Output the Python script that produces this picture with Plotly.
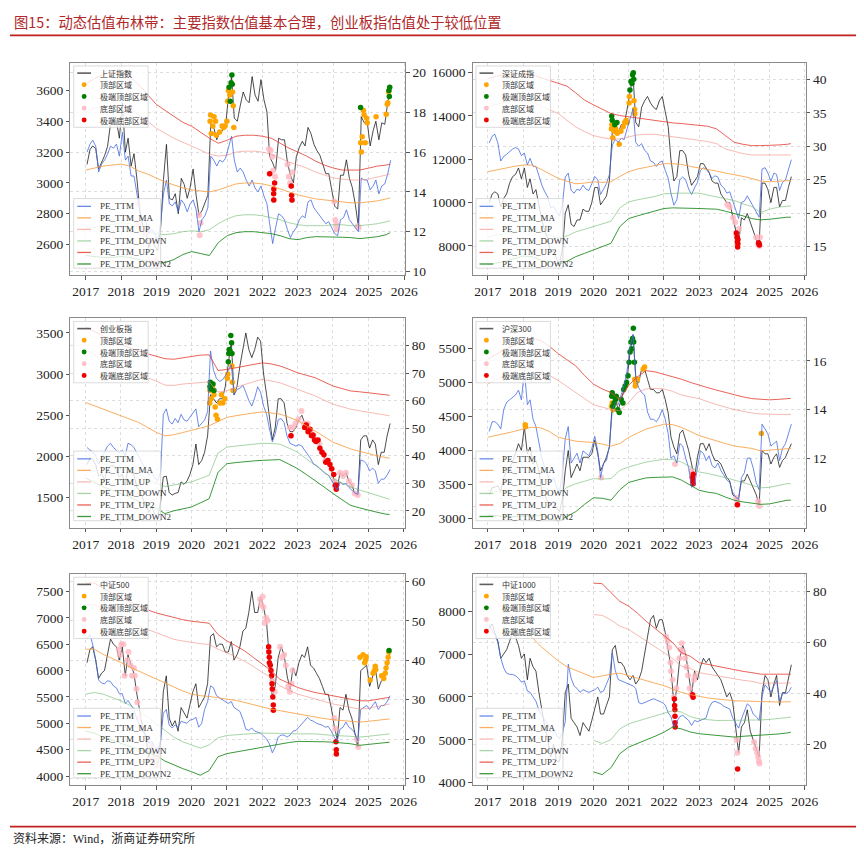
import pandas as pd
import plotly.graph_objects as go

W, H = 864, 853

# ---------------- time grids ----------------
months = pd.date_range("2017-01-01", periods=104, freq="MS") + pd.Timedelta(days=14)
quarters = list(pd.date_range("2017-01-01", "2025-07-01", freq="QS")) + [pd.Timestamp("2025-08-10")]
year_ticks = [str(y) for y in range(2017, 2027)]

# ---------------- 上证指数 ----------------
sh_idx = [3120, 3217, 3240, 3222, 3090, 3132, 3176, 3237, 3385, 3390, 3402, 3290,
          3520, 3200, 3290, 3110, 3190, 3020, 2810, 2720, 2680, 2580, 2630, 2590,
          2560, 2720, 3020, 3250, 2900, 2890, 2930, 2800, 3030, 2990, 2900, 2970,
          3090, 2920, 2790, 2820, 2870, 2920, 3380, 3360, 3280, 3330, 3340, 3370,
          3570, 3690, 3420, 3400, 3500, 3590, 3540, 3520, 3690, 3570, 3530, 3670,
          3540, 3460, 3170, 3130, 3080, 3290, 3280, 3280, 3130, 3050, 3000, 3170,
          3230, 3270, 3240, 3360, 3320, 3250, 3210, 3180, 3120, 3060, 3060, 2960,
          2850, 2830, 3050, 3050, 3150, 3030, 2970, 2860, 2720, 3430, 3390, 3400,
          3240, 3340, 3400, 3280, 3390, 3380, 3520, 3620]
sh_pe = [16.0, 16.4, 16.6, 16.3, 15.0, 15.4, 15.6, 15.9, 16.3, 16.2, 16.4, 15.8,
         17.0, 15.6, 15.8, 14.8, 14.8, 13.9, 13.0, 12.6, 12.5, 11.9, 12.1, 11.9,
         11.5, 12.5, 13.9, 14.6, 13.4, 13.3, 13.5, 13.0, 13.6, 13.4, 13.0, 13.4,
         13.6, 13.1, 12.0, 12.6, 12.8, 13.2, 15.8, 15.6, 15.3, 15.6, 15.5, 15.7,
         16.3, 16.8, 15.6, 15.0, 15.2, 15.0, 14.6, 14.3, 14.6, 14.2, 14.0, 14.3,
         13.8, 13.4, 12.4, 11.4, 12.2, 12.9, 12.8, 12.6, 12.1, 11.7, 12.0, 12.2,
         12.6, 12.8, 12.7, 13.5, 13.6, 13.2, 13.0, 12.8, 12.6, 12.4, 12.5, 12.2,
         11.9, 11.8, 12.6, 12.7, 13.1, 12.6, 12.4, 12.2, 12.0, 14.7, 14.6, 14.6,
         14.1, 14.3, 14.6, 13.9, 14.3, 14.4, 14.9, 15.6]
sh_up2 = [19.4, 19.7, 19.9, 20.0, 20.0, 19.8, 19.4, 18.9, 18.4, 18.1, 17.8, 17.5, 17.3, 17.0, 16.7, 16.45, 16.6, 16.8,
          16.85, 16.85, 16.8, 16.7, 16.45, 16.2, 16.0, 15.8, 15.55, 15.35, 15.2, 15.1, 15.1, 15.1, 15.2, 15.3, 15.35, 15.4]
sh_up = [18.0, 18.2, 18.3, 18.35, 18.35, 18.2, 17.9, 17.55, 17.2, 16.95, 16.7, 16.5, 16.3, 16.1, 15.9, 15.8, 15.85, 16.0,
         16.05, 16.05, 16.0, 15.9, 15.7, 15.5, 15.35, 15.2, 15.0, 14.85, 14.7, 14.65, 14.6, 14.6, 14.65, 14.75, 14.85, 14.9]
sh_ma = [15.1, 15.2, 15.3, 15.35, 15.4, 15.3, 15.05, 14.9, 14.7, 14.5, 14.35, 14.2, 14.1, 14.05, 14.0, 14.1, 14.25, 14.4,
         14.45, 14.45, 14.4, 14.3, 14.15, 14.0, 13.85, 13.75, 13.65, 13.6, 13.55, 13.5, 13.45, 13.45, 13.5, 13.55, 13.65, 13.7]
sh_dn = [12.2, 12.2, 12.3, 12.35, 12.45, 12.4, 12.2, 12.0, 11.9, 11.85, 11.9, 12.0, 12.05, 12.0, 12.1, 12.4, 12.65, 12.8,
         12.85, 12.85, 12.8, 12.7, 12.6, 12.45, 12.35, 12.3, 12.3, 12.3, 12.35, 12.35, 12.3, 12.3, 12.35, 12.4, 12.5, 12.55]
sh_dn2 = [10.8, 10.75, 10.7, 10.7, 10.75, 10.7, 10.6, 10.5, 10.4, 10.45, 10.6, 10.85, 11.0, 10.9, 10.8, 11.45, 11.8, 11.95,
          12.0, 12.0, 11.95, 11.9, 11.8, 11.65, 11.6, 11.7, 11.75, 11.75, 11.72, 11.72, 11.7, 11.65, 11.7, 11.75, 11.85, 11.95]
sh_top = [("2020-07-08", 3400), ("2020-07-13", 3440), ("2020-07-21", 3320), ("2020-08-05", 3370), ("2020-08-18", 3430),
          ("2020-09-02", 3400), ("2020-09-10", 3310), ("2020-10-15", 3330), ("2020-11-09", 3370), ("2020-11-25", 3360),
          ("2020-12-10", 3370), ("2020-12-28", 3400), ("2021-01-05", 3530), ("2021-01-13", 3600), ("2021-01-27", 3570),
          ("2021-02-25", 3590), ("2021-03-04", 3500), ("2021-03-10", 3360), ("2024-10-09", 3260), ("2024-10-16", 3200),
          ("2024-10-25", 3300), ("2024-11-07", 3470), ("2024-11-13", 3440), ("2024-11-25", 3260), ("2024-12-10", 3420),
          ("2024-12-16", 3390), ("2025-03-17", 3430), ("2025-06-30", 3445), ("2025-07-10", 3510), ("2025-07-17", 3520),
          ("2025-07-24", 3590)]
sh_xtop = [("2021-01-20", 3620), ("2021-02-01", 3530), ("2021-02-10", 3650), ("2021-02-18", 3700), ("2021-02-22", 3640),
           ("2024-10-08", 3490), ("2025-07-28", 3600), ("2025-08-01", 3560), ("2025-08-05", 3620)]
sh_bot = [("2018-06-25", 2860), ("2018-07-05", 2730), ("2018-08-15", 2700), ("2018-09-10", 2670), ("2018-10-18", 2490),
          ("2018-11-15", 2630), ("2018-12-25", 2500), ("2019-01-03", 2465), ("2020-03-16", 2790), ("2020-03-23", 2660),
          ("2020-04-01", 2740), ("2022-03-08", 3220), ("2022-03-15", 3060), ("2022-03-25", 3210), ("2022-04-11", 3170),
          ("2022-04-20", 3080), ("2022-04-26", 2890), ("2022-05-10", 3040), ("2022-09-16", 3120), ("2022-09-28", 3040),
          ("2022-10-12", 3000), ("2022-10-24", 2980), ("2022-10-31", 2890), ("2022-11-04", 3070), ("2024-01-10", 2880),
          ("2024-01-22", 2760), ("2024-02-02", 2730), ("2024-02-05", 2700), ("2024-09-10", 2720), ("2024-09-18", 2710)]
sh_xbot = [("2022-03-15", 3060), ("2022-04-25", 2930), ("2022-04-26", 2890), ("2022-04-27", 2960), ("2022-05-05", 3000),
           ("2022-10-24", 2980), ("2022-10-28", 2920), ("2022-10-31", 2890)]

# ---------------- 深证成指 ----------------
sz_idx = [10000, 10400, 10500, 10400, 9800, 10200, 10400, 10900, 11200, 11300, 11600, 11100,
          11600, 10700, 11100, 10400, 10600, 9800, 9200, 8700, 8300, 7700, 7800, 7400,
          7200, 7900, 9500, 9900, 9000, 8900, 9200, 9200, 9700, 9600, 9600, 10000,
          10700, 10700, 9900, 10100, 10300, 11000, 13300, 13600, 13200, 13600, 13600, 14300,
          15200, 15900, 13700, 13500, 14400, 14700, 14900, 14600, 14400, 14300, 14700, 14900,
          14200, 13500, 12000, 11000, 11200, 12400, 12400, 12200, 11300, 10800, 11000, 11200,
          11800, 11800, 11600, 11400, 11000, 10900, 10900, 10400, 10200, 10000, 10000, 9400,
          8800, 8100, 9300, 9200, 9500, 9100, 8700, 8300, 8100, 10900, 10900, 10600,
          10000, 10700, 10700, 9800, 10100, 10100, 10700, 11200]
sz_pe = [30.5, 31.5, 31.8, 30.5, 27.8, 28.5, 28.8, 29.2, 29.6, 29.8, 29.6, 28.6,
         29.0, 27.2, 28.2, 27.0, 27.0, 25.6, 24.2, 23.2, 22.4, 20.8, 21.0, 20.2,
         19.6, 21.5, 25.4, 26.0, 23.4, 23.0, 23.6, 23.4, 24.2, 23.6, 23.4, 24.4,
         25.5, 25.0, 22.8, 23.6, 24.4, 25.8, 30.2, 31.0, 30.6, 31.2, 31.0, 32.6,
         34.2, 35.6, 30.6, 30.0, 30.4, 29.4, 29.0, 27.8, 27.6, 27.0, 27.6, 27.8,
         26.4, 25.2, 23.0, 21.2, 22.0, 25.0, 25.4, 25.0, 23.6, 22.8, 23.8, 24.6,
         26.4, 26.8, 26.6, 26.0, 25.2, 25.6, 25.4, 24.2, 23.8, 23.0, 23.2, 21.8,
         20.4, 19.2, 21.6, 21.8, 22.6, 21.8, 21.0, 20.0, 19.4, 26.6, 26.8, 26.0,
         24.8, 26.0, 25.8, 23.4, 24.6, 25.0, 26.6, 28.0]
sz_up2 = [40.1, 40.5, 40.7, 40.8, 40.8, 40.7, 40.3, 39.8, 39.4, 39.0, 38.0, 36.9, 36.2, 35.5, 34.9, 34.6, 34.4, 34.2,
          34.0, 33.8, 33.6, 33.5, 33.4, 33.3, 33.1, 33.0, 32.6, 31.6, 30.6, 30.3, 30.1, 30.1, 30.1, 30.2, 30.3, 30.4]
sz_up = [35.9, 36.3, 36.6, 36.8, 36.8, 36.6, 36.0, 35.4, 34.9, 33.9, 32.9, 32.2, 31.6, 31.3, 31.1, 31.1, 31.4, 31.7,
         31.8, 31.8, 31.6, 31.4, 31.3, 31.1, 30.9, 30.7, 30.4, 29.6, 29.2, 28.9, 28.7, 28.7, 28.7, 28.7, 28.7, 28.7]
sz_ma = [26.2, 26.5, 26.7, 27.0, 27.2, 27.2, 26.6, 25.9, 25.2, 24.8, 24.4, 24.5, 24.7, 24.6, 24.7, 25.5, 26.2, 26.6,
         26.9, 27.2, 27.4, 27.4, 27.3, 27.0, 26.8, 26.6, 26.3, 26.0, 25.8, 25.5, 25.2, 24.8, 24.7, 24.8, 24.9, 24.9]
sz_dn = [16.5, 16.7, 16.9, 17.2, 17.6, 17.6, 17.2, 16.8, 16.3, 16.6, 17.2, 17.6, 18.0, 18.3, 18.8, 20.8, 21.7, 22.0,
         22.2, 22.5, 22.9, 23.0, 23.0, 23.0, 23.0, 22.7, 22.4, 22.2, 21.9, 21.4, 21.0, 20.1, 20.6, 20.9, 21.1, 21.1]
sz_dn2 = [12.3, 12.5, 12.8, 13.2, 13.6, 13.5, 13.0, 12.7, 12.4, 12.8, 13.5, 14.0, 14.5, 15.0, 15.5, 18.0, 19.2, 19.6,
          20.0, 20.4, 20.7, 20.8, 20.8, 20.8, 20.7, 20.65, 20.6, 20.3, 20.0, 19.6, 19.2, 19.0, 19.1, 19.3, 19.4, 19.4]
sz_top = [("2020-07-06", 13400), ("2020-07-10", 13600), ("2020-07-20", 13000), ("2020-08-05", 13300),
          ("2020-08-20", 13400), ("2020-09-04", 13200), ("2020-09-25", 12700), ("2020-10-12", 13300),
          ("2020-11-05", 13500), ("2020-11-20", 13700), ("2020-12-04", 13800), ("2020-12-15", 13700),
          ("2021-01-05", 14600), ("2021-01-08", 14900), ("2021-02-25", 14700), ("2021-03-03", 14300),
          ("2021-03-05", 14100)]
sz_xtop = [("2020-07-09", 14000), ("2020-07-14", 13800), ("2020-08-10", 13600), ("2020-09-01", 13700),
           ("2021-01-14", 15200), ("2021-01-25", 15600), ("2021-02-04", 15500), ("2021-02-10", 15900),
           ("2021-02-18", 16000), ("2021-02-22", 15700)]
sz_bot = [("2023-10-20", 9900), ("2023-11-15", 9800), ("2023-12-20", 9300), ("2024-01-10", 9100), ("2024-01-25", 8500),
          ("2024-02-20", 8800), ("2024-08-15", 8400), ("2024-09-05", 8100), ("2024-09-18", 8000), ("2024-09-24", 8400)]
sz_xbot = [("2024-01-22", 8600), ("2024-01-30", 8400), ("2024-02-02", 8200), ("2024-02-05", 7950), ("2024-02-07", 8100),
           ("2024-02-08", 8300), ("2024-09-10", 8150), ("2024-09-13", 8100), ("2024-09-18", 8050)]

# ---------------- 创业板指 ----------------
cy_idx = [1900, 1980, 1960, 1900, 1760, 1790, 1720, 1830, 1880, 1890, 1830, 1750,
          1780, 1650, 1860, 1800, 1780, 1620, 1580, 1480, 1400, 1320, 1390, 1300,
          1250, 1450, 1750, 1760, 1560, 1530, 1550, 1560, 1690, 1660, 1700, 1780,
          1900, 2150, 1900, 1950, 2050, 2250, 2750, 2700, 2650, 2700, 2700, 2850,
          3100, 3400, 2750, 2850, 3100, 3300, 3500, 3300, 3200, 3300, 3450, 3400,
          3000, 2750, 2500, 2200, 2350, 2700, 2700, 2650, 2400, 2300, 2300, 2350,
          2450, 2500, 2400, 2300, 2300, 2250, 2200, 2150, 2050, 1950, 1950, 1850,
          1700, 1620, 1800, 1760, 1800, 1700, 1650, 1550, 1530, 2200, 2250, 2250,
          2100, 2200, 2150, 1900, 2050, 2050, 2250, 2400]
cy_pe = [43.0, 42.0, 41.5, 40.0, 37.0, 39.0, 41.0, 43.5, 44.5, 43.0, 42.0, 41.0,
         42.0, 40.0, 44.5, 44.0, 43.0, 41.0, 39.0, 36.5, 35.0, 33.0, 34.0, 32.0,
         31.0, 34.0, 55.0, 57.0, 52.5, 51.5, 53.5, 52.0, 55.0, 53.0, 52.5, 54.0,
         55.5, 57.0, 50.5, 52.0, 53.0, 56.0, 78.0, 71.0, 68.0, 67.0, 67.5, 69.0,
         71.0, 73.0, 62.0, 64.0, 64.5, 65.5, 63.0, 60.0, 58.0, 61.0, 65.0, 63.0,
         58.0, 55.0, 50.0, 45.0, 48.0, 53.0, 53.5, 52.0, 47.0, 44.5, 44.0, 43.5,
         44.0, 43.5, 42.0, 40.5, 39.0, 37.0, 36.5, 35.5, 34.5, 33.5, 33.0, 31.5,
         29.5, 27.5, 30.5, 29.5, 30.0, 28.5, 27.5, 26.5, 26.0, 38.5, 38.0, 37.0,
         34.5, 35.5, 34.5, 30.0, 31.5, 31.5, 33.0, 35.0]
cy_up2 = [86.7, 85.0, 83.3, 81.8, 80.3, 79.1, 77.9, 77.0, 76.1, 75.2, 75.0, 75.5, 76.1, 76.5, 76.6, 70.9, 71.3, 71.9,
          72.5, 73.1, 73.7, 73.3, 72.6, 71.4, 70.1, 69.2, 68.3, 66.8, 65.3, 64.4, 63.5, 63.2, 62.9, 62.5, 62.1, 61.9]
cy_up = [78.5, 76.7, 74.9, 73.4, 71.9, 70.7, 69.5, 68.3, 67.1, 65.6, 65.5, 66.0, 66.3, 66.6, 66.8, 63.1, 63.6, 64.8,
         65.9, 66.8, 67.7, 67.2, 66.5, 65.3, 64.1, 62.9, 61.7, 60.2, 58.7, 57.8, 56.9, 56.3, 55.7, 55.2, 54.7, 54.5]
cy_ma = [59.3, 58.1, 56.9, 55.7, 54.5, 53.3, 52.1, 50.3, 48.5, 47.2, 47.6, 48.4, 49.1, 50.0, 50.9, 52.5, 53.9, 54.5,
         55.1, 55.5, 55.9, 55.6, 55.1, 54.0, 52.7, 50.9, 49.1, 47.0, 44.9, 43.7, 42.5, 41.6, 40.7, 40.0, 39.3, 39.1]
cy_dn = [40.1, 38.6, 37.1, 36.0, 35.0, 34.5, 33.5, 31.5, 29.9, 28.8, 29.3, 29.9, 30.5, 31.7, 32.9, 41.0, 43.1, 43.5,
         43.9, 44.2, 44.5, 44.4, 44.2, 42.8, 41.3, 38.9, 36.5, 34.1, 31.7, 30.2, 28.7, 27.6, 26.6, 25.4, 24.4, 24.2]
cy_dn2 = [31.9, 30.3, 28.7, 27.5, 26.3, 25.0, 23.5, 22.0, 20.9, 19.0, 20.0, 20.7, 21.4, 22.9, 24.4, 34.0, 37.1, 37.5,
          37.9, 38.1, 38.3, 38.5, 38.6, 37.0, 35.3, 33.2, 31.1, 28.7, 26.3, 24.1, 22.0, 21.1, 20.2, 19.5, 18.8, 18.7]
cy_top = [("2020-07-07", 2650), ("2020-07-10", 2800), ("2020-07-20", 2700), ("2020-08-05", 2850), ("2020-08-20", 2750),
          ("2020-09-01", 2600), ("2020-09-10", 2500), ("2020-09-25", 2450), ("2020-10-20", 2650), ("2020-11-05", 2750),
          ("2020-11-20", 2650), ("2020-12-10", 2700), ("2021-01-05", 2950), ("2021-01-10", 3000), ("2021-02-22", 3100),
          ("2021-02-25", 2900), ("2021-03-05", 2800)]
cy_xtop = [("2020-07-09", 2850), ("2020-07-13", 2900), ("2020-07-15", 2820), ("2020-08-10", 2880), ("2020-08-20", 2800),
           ("2021-01-15", 3150), ("2021-01-20", 3250), ("2021-01-25", 3300), ("2021-02-01", 3280), ("2021-02-10", 3470),
           ("2021-02-18", 3380), ("2021-02-22", 3250)]
cy_bot = [("2022-10-15", 2350), ("2022-10-25", 2250), ("2022-11-10", 2350), ("2022-12-10", 2400), ("2023-01-10", 2450),
          ("2023-02-10", 2550), ("2023-03-10", 2400), ("2023-04-15", 2400), ("2023-05-15", 2300), ("2023-06-15", 2250),
          ("2023-07-15", 2200), ("2023-08-15", 2150), ("2023-09-15", 2050), ("2023-10-15", 1950), ("2023-11-15", 1950),
          ("2023-12-15", 1850), ("2024-01-15", 1700), ("2024-03-15", 1800), ("2024-04-15", 1760), ("2024-05-15", 1800),
          ("2024-06-15", 1700), ("2024-07-15", 1650), ("2024-08-15", 1550), ("2024-09-15", 1530)]
cy_xbot = [("2022-10-25", 2250), ("2023-03-15", 2350), ("2023-04-01", 2380), ("2023-04-20", 2300), ("2023-05-10", 2330),
           ("2023-05-25", 2250), ("2023-06-10", 2260), ("2023-06-25", 2200), ("2023-07-10", 2180), ("2023-08-01", 2200),
           ("2023-08-20", 2100), ("2023-09-10", 2050), ("2023-10-01", 2020), ("2023-10-20", 1930), ("2023-11-10", 1950),
           ("2023-12-01", 1900), ("2023-12-20", 1850), ("2024-01-10", 1780), ("2024-01-25", 1650), ("2024-02-05", 1600),
           ("2024-02-08", 1650)]

# ---------------- 沪深300 ----------------
hs_idx = [3350, 3450, 3460, 3480, 3400, 3600, 3700, 3750, 3830, 3950, 4100, 4000,
          4350, 3950, 4050, 3800, 3850, 3700, 3400, 3350, 3250, 3200, 3250, 3150,
          3100, 3300, 3700, 4000, 3600, 3700, 3800, 3700, 3900, 3900, 3900, 3950,
          4150, 3950, 3700, 3800, 3900, 4050, 4700, 4750, 4600, 4750, 4900, 5050,
          5450, 5700, 5100, 5000, 5200, 5200, 5050, 4900, 4900, 4850, 4850, 4900,
          4750, 4550, 4200, 4050, 3950, 4250, 4300, 4150, 4000, 3800, 3600, 3900,
          4100, 4100, 4000, 4100, 3950, 3850, 3850, 3800, 3700, 3600, 3550, 3350,
          3300, 3300, 3550, 3550, 3650, 3550, 3450, 3350, 3200, 4000, 3950, 3950,
          3800, 3900, 3950, 3750, 3850, 3900, 4000, 4100]
hs_pe = [13.1, 13.5, 13.5, 13.4, 13.2, 14.0, 14.3, 14.4, 14.5, 14.6, 14.8, 14.4,
         15.6, 14.2, 14.4, 13.6, 13.3, 12.6, 12.0, 11.6, 11.3, 11.0, 11.2, 10.8,
         10.6, 11.5, 12.8, 13.3, 11.8, 12.0, 12.2, 11.8, 12.3, 12.2, 12.1, 12.4,
         12.9, 12.3, 11.2, 11.8, 11.9, 12.5, 14.0, 14.3, 14.2, 14.6, 15.0, 15.6,
         16.6, 17.1, 15.3, 14.9, 14.7, 14.6, 13.9, 13.6, 13.6, 13.5, 13.7, 14.0,
         13.6, 13.0, 12.0, 12.1, 11.8, 12.6, 12.5, 12.0, 11.6, 10.8, 10.9, 11.6,
         12.3, 12.2, 11.9, 12.1, 11.7, 11.6, 11.8, 11.5, 11.3, 11.1, 11.0, 10.6,
         10.4, 10.3, 11.2, 11.4, 12.0, 12.0, 11.6, 11.0, 10.7, 13.4, 13.2, 13.0,
         12.5, 12.6, 12.7, 11.9, 12.4, 12.6, 13.0, 13.4]
hs_up2 = [16.07, 16.3, 16.5, 16.65, 16.8, 16.9, 16.85, 16.6, 16.3, 16.05, 15.8, 15.4, 15.05, 14.85, 14.7, 14.4, 15.0,
          15.35, 15.6, 15.55, 15.45, 15.35, 15.25, 15.12, 15.0, 14.9, 14.8, 14.7, 14.6, 14.52, 14.45, 14.42, 14.4, 14.42,
          14.45, 14.46]
hs_up = [15.05, 15.25, 15.4, 15.55, 15.7, 15.72, 15.6, 15.4, 15.2, 14.95, 14.7, 14.45, 14.2, 14.1, 14.0, 13.95, 14.3,
         14.7, 14.85, 14.87, 14.85, 14.75, 14.6, 14.52, 14.45, 14.32, 14.2, 14.1, 14.0, 13.92, 13.86, 13.82, 13.8, 13.8,
         13.8, 13.8]
hs_ma = [12.86, 12.93, 13.0, 13.1, 13.2, 13.27, 13.25, 13.1, 12.86, 12.78, 12.7, 12.67, 12.65, 12.58, 12.5, 12.6, 12.86,
         13.03, 13.2, 13.3, 13.4, 13.38, 13.27, 13.1, 12.93, 12.82, 12.7, 12.6, 12.5, 12.45, 12.4, 12.3, 12.33, 12.36,
         12.4, 12.4]
hs_dn = [10.67, 10.62, 10.6, 10.65, 10.7, 10.8, 10.85, 10.7, 10.5, 10.8, 10.95, 11.05, 11.16, 11.14, 11.16, 11.5, 11.64,
         11.74, 11.84, 11.9, 11.95, 11.95, 11.84, 11.65, 11.43, 11.37, 11.3, 11.2, 11.1, 11.0, 10.9, 10.78, 10.8, 10.88,
         10.95, 10.95]
hs_dn2 = [9.66, 9.62, 9.6, 9.6, 9.6, 9.63, 9.65, 9.55, 9.42, 9.6, 9.8, 10.1, 10.37, 10.35, 10.27, 10.7, 11.0, 11.1,
          11.19, 11.21, 11.23, 11.23, 11.1, 10.9, 10.68, 10.6, 10.55, 10.4, 10.27, 10.2, 10.14, 10.1, 10.12, 10.2, 10.27,
          10.27]
hs_top = [("2018-01-24", 4380), ("2018-01-26", 4350), ("2020-07-06", 4650), ("2020-07-13", 4700), ("2020-07-22", 4600),
          ("2020-08-10", 4700), ("2021-03-05", 5050), ("2021-03-10", 4950), ("2021-03-15", 5000), ("2021-04-01", 5050),
          ("2021-06-01", 5200), ("2021-06-15", 5230), ("2024-10-08", 4250)]
hs_xtop = [("2020-07-09", 4800), ("2020-07-14", 4850), ("2020-07-20", 4650), ("2020-08-03", 4700), ("2020-08-17", 4750),
           ("2020-08-25", 4800), ("2020-09-10", 4600), ("2020-09-25", 4560), ("2020-10-15", 4750), ("2020-11-02", 4700),
           ("2020-11-10", 4900), ("2020-11-25", 4950), ("2020-12-10", 5000), ("2020-12-25", 5100), ("2021-01-05", 5300),
           ("2021-01-15", 5450), ("2021-01-25", 5600), ("2021-02-01", 5500), ("2021-02-10", 5650), ("2021-02-18", 5800),
           ("2021-02-22", 5600), ("2021-03-01", 5300)]
hs_bot = [("2020-03-20", 3600), ("2022-04-26", 3800), ("2022-10-14", 3700), ("2022-10-24", 3600), ("2022-10-31", 3510),
          ("2022-11-04", 3650), ("2024-01-22", 3300), ("2024-02-02", 3250), ("2024-02-05", 3200), ("2024-09-05", 3250),
          ("2024-09-18", 3180)]
hs_xbot = [("2022-10-24", 3600), ("2022-10-27", 3550), ("2022-10-31", 3510), ("2022-11-01", 3650), ("2024-02-02", 3200)]

# ---------------- 中证500 ----------------
zz5_idx = [6150, 6400, 6450, 6200, 5850, 5950, 6000, 6300, 6600, 6500, 6450, 6200,
           6450, 5900, 6300, 6100, 5950, 5550, 5200, 4900, 4750, 4350, 4600, 4250,
           4200, 4700, 5600, 5900, 5100, 4950, 5050, 4850, 5300, 5200, 5100, 5350,
           5600, 5750, 5300, 5400, 5500, 5750, 6650, 6700, 6450, 6500, 6500, 6350,
           6350, 6550, 6200, 6300, 6450, 6750, 6800, 7100, 7500, 7100, 7100, 7400,
           7200, 6900, 6300, 5500, 5700, 6250, 6450, 6300, 5900, 5650, 6050, 5900,
           6150, 6300, 6250, 6450, 6100, 6050, 5950, 5850, 5700, 5550, 5550, 5300,
           4950, 4700, 5300, 5250, 5550, 5250, 5100, 4850, 4550, 6000, 6050, 6100,
           5700, 5900, 6050, 5650, 5800, 5850, 6100, 6350]
zz5_pe = [45.5, 46.5, 44.0, 40.0, 35.0, 34.2, 34.0, 34.8, 34.6, 33.5, 33.0, 31.5,
          31.5, 29.0, 29.8, 28.5, 27.5, 25.0, 23.5, 22.0, 21.0, 19.0, 19.5, 18.0,
          17.5, 19.5, 26.5, 27.5, 23.5, 22.8, 23.6, 23.0, 24.5, 24.2, 24.0, 24.8,
          25.0, 25.5, 23.0, 24.0, 27.5, 29.5, 33.5, 33.0, 31.0, 30.5, 30.0, 29.5,
          29.0, 29.5, 28.0, 27.5, 27.0, 25.0, 22.5, 22.2, 22.8, 22.0, 21.8, 21.5,
          20.8, 20.0, 18.8, 16.5, 18.0, 20.5, 21.0, 21.0, 20.5, 21.0, 22.0, 22.2,
          23.0, 23.8, 24.5, 25.5, 24.8, 24.5, 24.0, 23.8, 23.5, 23.0, 23.2, 22.0,
          20.5, 19.5, 22.5, 23.0, 24.3, 23.0, 22.5, 21.5, 19.5, 27.5, 28.0, 28.5,
          27.5, 28.5, 29.5, 27.5, 28.5, 28.5, 29.5, 31.0]
zz5_up2 = [59.6, 59.6, 58.3, 57.0, 55.8, 54.8, 53.7, 52.8, 52.0, 51.4, 50.8, 50.3, 49.9, 49.7, 49.4, 46.5, 44.9, 43.7,
           42.4, 40.7, 39.0, 37.4, 35.2, 34.1, 33.1, 32.4, 31.8, 31.4, 31.0, 30.6, 30.2, 29.7, 29.7, 30.0, 30.4, 30.6]
zz5_up = [54.1, 54.1, 52.9, 51.9, 50.8, 49.8, 48.7, 47.8, 47.0, 46.1, 45.3, 44.9, 44.5, 44.2, 44.0, 42.8, 41.9, 40.8,
          39.8, 38.4, 36.9, 35.7, 33.5, 32.4, 31.4, 30.8, 30.2, 29.5, 28.9, 28.5, 28.1, 27.6, 27.8, 28.3, 28.7, 28.9]
zz5_ma = [42.8, 42.8, 41.5, 40.5, 39.4, 38.3, 37.3, 36.2, 35.2, 34.1, 33.1, 32.2, 31.4, 31.0, 30.8, 30.5, 30.2, 29.8,
          29.3, 28.7, 28.1, 27.6, 27.2, 26.8, 26.4, 26.0, 25.5, 25.2, 24.9, 24.7, 24.5, 24.3, 24.5, 24.8, 25.0, 25.1]
zz5_dn = [31.4, 31.8, 31.4, 30.6, 29.7, 28.6, 27.2, 25.6, 23.9, 22.2, 20.5, 19.3, 18.4, 17.7, 18.5, 20.3, 20.9, 21.1,
          21.3, 21.4, 21.5, 21.5, 21.5, 21.4, 21.3, 21.3, 21.3, 21.1, 20.9, 20.8, 20.7, 20.5, 20.7, 21.0, 21.2, 21.3]
zz5_dn2 = [22.0, 21.5, 20.5, 19.7, 19.0, 18.2, 17.5, 16.6, 15.8, 14.4, 13.4, 12.5, 11.7, 10.8, 12.0, 15.5, 16.3, 16.7,
           17.1, 17.5, 18.0, 18.4, 18.8, 19.1, 19.4, 19.4, 19.4, 19.3, 19.2, 19.0, 18.8, 18.4, 18.6, 18.9, 19.1, 19.2]
zz5_top = [("2024-10-08", 6250), ("2024-11-08", 6300), ("2024-11-25", 6150), ("2024-12-05", 6200), ("2024-12-10", 6260),
           ("2025-01-20", 5820), ("2025-02-20", 5950), ("2025-03-05", 6000), ("2025-03-14", 6080), ("2025-03-20", 6020),
           ("2025-05-20", 5900), ("2025-06-10", 5850), ("2025-06-25", 5950), ("2025-07-04", 6050), ("2025-07-15", 6150),
           ("2025-07-25", 6250), ("2025-08-01", 6350)]
zz5_xtop = [("2025-08-04", 6380)]
zz5_bot = [("2017-12-10", 6400), ("2017-12-20", 6300), ("2018-01-05", 6500), ("2018-01-25", 6500), ("2018-02-08", 5900),
           ("2018-03-09", 6200), ("2018-03-20", 6350), ("2018-04-10", 6100), ("2018-04-25", 5900), ("2018-05-15", 6050),
           ("2018-05-25", 5900), ("2018-06-11", 5650), ("2018-06-20", 5400), ("2018-07-10", 5100), ("2018-08-10", 4900),
           ("2018-09-10", 4700), ("2018-10-15", 4300), ("2018-11-09", 4600), ("2018-12-10", 4350), ("2019-01-03", 4200),
           ("2019-01-21", 4350), ("2021-12-10", 7350), ("2021-12-20", 7250), ("2022-01-05", 7400), ("2022-01-14", 7200),
           ("2022-01-25", 6900), ("2022-02-10", 7000), ("2022-02-25", 6950), ("2022-03-08", 6400), ("2022-04-15", 5800),
           ("2022-05-10", 5600), ("2022-07-05", 6450), ("2022-07-25", 6250), ("2022-08-15", 6300), ("2022-09-01", 6100),
           ("2022-09-26", 5700), ("2022-10-12", 5600), ("2022-10-31", 5750), ("2022-11-10", 6000), ("2024-01-15", 5100),
           ("2024-01-25", 4900), ("2024-09-05", 4700), ("2024-09-18", 4550)]
zz5_xbot = [("2022-03-08", 6450), ("2022-03-10", 6350), ("2022-03-15", 6250), ("2022-03-16", 6150), ("2022-03-25", 6100),
            ("2022-04-01", 6000), ("2022-04-08", 5900), ("2022-04-12", 5750), ("2022-04-15", 5650), ("2022-04-20", 5500),
            ("2022-04-25", 5350), ("2022-04-26", 5250), ("2024-02-02", 4650), ("2024-02-05", 4500), ("2024-02-06", 4420)]

# ---------------- 中证1000 ----------------
zz1k_idx = [7600, 7700, 7500, 7300, 6900, 7000, 7100, 7300, 7500, 7400, 7200, 6900,
            7000, 6400, 6900, 6700, 6600, 6100, 5700, 5300, 5000, 4600, 4900, 4500,
            4500, 5100, 6100, 6300, 5500, 5400, 5300, 5100, 5400, 5300, 5200, 5450,
            5700, 6000, 5600, 5600, 5800, 6000, 7100, 7200, 6800, 6800, 6700, 6500,
            6400, 6500, 6300, 6400, 6600, 7000, 7400, 7800, 7900, 7600, 7800, 7800,
            7500, 7100, 6700, 5800, 6200, 6900, 7200, 7000, 6500, 6050, 6600, 6400,
            6700, 6900, 6800, 6900, 6700, 6600, 6500, 6400, 6200, 6000, 6100, 5900,
            5300, 4700, 5300, 5400, 5700, 5200, 5000, 4800, 4600, 6100, 6500, 6400,
            6000, 6300, 6500, 5800, 6100, 6100, 6400, 6750]
zz1k_pe = [67.0, 64.5, 63.0, 60.0, 54.0, 50.0, 48.0, 47.5, 47.5, 47.0, 46.0, 44.5,
           45.0, 41.0, 40.5, 38.5, 37.0, 33.5, 31.5, 29.5, 28.0, 25.0, 26.0, 23.5,
           22.5, 25.0, 29.0, 51.5, 46.0, 43.0, 42.0, 40.5, 41.5, 41.0, 40.5, 41.0,
           41.5, 42.5, 40.5, 41.0, 44.0, 46.5, 56.0, 49.0, 45.5, 45.0, 44.5, 44.0,
           43.5, 43.0, 42.0, 36.5, 36.0, 36.5, 37.0, 37.5, 38.0, 37.5, 37.0, 36.5,
           35.5, 32.5, 31.0, 27.0, 29.0, 31.0, 31.5, 30.5, 29.5, 27.5, 29.5, 29.0,
           29.5, 30.0, 30.5, 34.5, 36.5, 37.0, 36.5, 36.0, 35.0, 34.5, 34.0, 30.5,
           28.5, 26.5, 30.0, 33.0, 36.0, 35.0, 32.0, 31.0, 29.5, 39.0, 43.5, 42.0,
           40.5, 43.0, 45.0, 37.0, 40.0, 40.0, 40.5, 42.5]
zz1k_up2 = [None] * 12 + [83.2, 83.0, 79.5, 76.1, 74.2, 71.5, 68.3, 65.4, 62.5, 60.0, 56.0, 54.6, 52.1, 51.4, 50.8,
                          50.0, 49.2, 48.7, 48.2, 47.6, 47.6, 47.6, 47.6, 47.6]
zz1k_up = [None] * 12 + [70.9, 70.6, 68.8, 66.4, 65.1, 62.8, 60.6, 58.3, 56.0, 53.8, 50.8, 49.8, 48.2, 47.6, 47.0,
                         46.3, 45.7, 45.2, 44.8, 44.0, 44.1, 44.1, 44.1, 44.1]
zz1k_ma = [79.3, 76.1, 72.9, 69.3, 65.7, 62.2, 58.6, 55.7, 52.8, 50.5, 49.2, 47.7, 46.3, 46.9, 47.6, 48.0, 47.0, 46.0,
           45.0, 44.0, 43.1, 41.8, 40.5, 39.6, 38.8, 38.3, 37.9, 37.5, 37.2, 37.1, 37.0, 36.8, 36.6, 36.7, 36.8, 36.8]
zz1k_dn = [None] * 12 + [21.7, 20.5, 22.0, 26.2, 28.2, 29.2, 30.1, 31.1, 32.1, 33.3, 32.8, 31.0, 30.1, 29.8, 29.5,
                         29.5, 29.5, 29.6, 29.7, 29.7, 29.9, 30.2, 30.5, 30.8]
zz1k_dn2 = [None] * 12 + [9.4, 8.3, 11.0, 16.5, 19.1, 20.4, 21.7, 23.3, 24.9, 26.9, 26.2, 25.0, 24.3, 24.0, 23.6,
                          23.3, 23.0, 23.3, 23.5, 23.6, 23.8, 24.2, 24.6, 24.9]
zz1k_top = []
zz1k_xtop = []
zz1k_bot = [("2022-01-25", 7400), ("2022-02-10", 7300), ("2022-02-25", 7150), ("2022-03-10", 6800), ("2022-03-15", 6600),
            ("2022-04-01", 6400), ("2022-04-15", 6000), ("2022-05-10", 6200), ("2022-06-10", 6900), ("2022-06-24", 7100),
            ("2022-07-05", 7250), ("2022-07-20", 7050), ("2022-08-10", 6900), ("2022-08-25", 6700), ("2022-09-09", 6500),
            ("2022-09-26", 6200), ("2022-10-12", 6050), ("2022-11-10", 6400), ("2022-11-21", 6500), ("2024-01-25", 5000),
            ("2024-02-02", 4700), ("2024-07-25", 4950), ("2024-08-09", 4800), ("2024-08-26", 4700), ("2024-09-05", 4600),
            ("2024-09-13", 4500), ("2024-09-18", 4450)]
zz1k_xbot = [("2022-04-20", 5950), ("2022-04-22", 5800), ("2022-04-25", 5700), ("2022-04-26", 5550),
             ("2022-04-27", 5400), ("2022-04-28", 5300), ("2022-10-25", 6050), ("2022-10-31", 5990),
             ("2024-02-05", 4320)]

# ---------------- layout of the six panels (pixel boxes) ----------------
panels = [
    dict(name="上证指数", idx=sh_idx, pe=sh_pe, ma=sh_ma, up=sh_up, dn=sh_dn, up2=sh_up2, dn2=sh_dn2,
         top=sh_top, xtop=sh_xtop, bot=sh_bot, xbot=sh_xbot, box=(63.3, 55, 403.3, 269),
         yl=(2400, 3780), ylt=list(range(2600, 3601, 200)), yr=(9.8, 20.5), yrt=list(range(10, 21, 2))),
    dict(name="深证成指", idx=sz_idx, pe=sz_pe, ma=sz_ma, up=sz_up, dn=sz_dn, up2=sz_up2, dn2=sz_dn2,
         top=sz_top, xtop=sz_xtop, bot=sz_bot, xbot=sz_xbot, box=(471.7, 55, 810, 269),
         yl=(6640, 16460), ylt=list(range(8000, 16001, 2000)), yr=(10.7, 42.5), yrt=list(range(15, 41, 5))),
    dict(name="创业板指", idx=cy_idx, pe=cy_pe, ma=cy_ma, up=cy_up, dn=cy_dn, up2=cy_up2, dn2=cy_dn2,
         top=cy_top, xtop=cy_xtop, bot=cy_bot, xbot=cy_xbot, box=(63.3, 312, 402.7, 523),
         yl=(1130, 3680), ylt=list(range(1500, 3501, 500)), yr=(13.8, 89.9), yrt=list(range(20, 81, 10))),
    dict(name="沪深300", idx=hs_idx, pe=hs_pe, ma=hs_ma, up=hs_up, dn=hs_dn, up2=hs_up2, dn2=hs_dn2,
         top=hs_top, xtop=hs_xtop, bot=hs_bot, xbot=hs_xbot, box=(471.7, 312, 810, 523),
         yl=(2858, 5950), ylt=list(range(3000, 5501, 500)), yr=(9.13, 17.76), yrt=list(range(10, 17, 2))),
    dict(name="中证500", idx=zz5_idx, pe=zz5_pe, ma=zz5_ma, up=zz5_up, dn=zz5_dn, up2=zz5_up2, dn2=zz5_dn2,
         top=zz5_top, xtop=zz5_xtop, bot=zz5_bot, xbot=zz5_xbot, box=(63.3, 569.3, 402.7, 781.7),
         yl=(3830, 7830), ylt=list(range(4000, 7501, 500)), yr=(8.3, 61.9), yrt=list(range(10, 61, 10))),
    dict(name="中证1000", idx=zz1k_idx, pe=zz1k_pe, ma=zz1k_ma, up=zz1k_up, dn=zz1k_dn, up2=zz1k_up2, dn2=zz1k_dn2,
         top=zz1k_top, xtop=zz1k_xtop, bot=zz1k_bot, xbot=zz1k_xbot, box=(471.7, 569.3, 810, 781.7),
         yl=(3944, 8866), ylt=list(range(4000, 8001, 1000)), yr=(4.2, 86.8), yrt=list(range(20, 81, 20))),
]

C_IDX = "rgba(25,25,25,0.78)"
C_PE = "rgba(65,105,225,0.78)"
C_MA = "rgba(248,160,70,0.85)"
C_UP = "rgba(240,140,130,0.6)"
C_DN = "rgba(110,185,110,0.6)"
C_UP2 = "rgba(228,60,48,0.8)"
C_DN2 = "rgba(25,135,25,0.85)"
marker_styles = [("top", "#FFA500", 5.5), ("xtop", "#008000", 5.5), ("bot", "rgba(255,182,193,0.8)", 6),
                 ("xbot", "#EE0000", 5.5)]
band_styles = [("ma", C_MA), ("up", C_UP), ("dn", C_DN), ("up2", C_UP2), ("dn2", C_DN2)]

TICKFONT = dict(family="Liberation Serif, Times New Roman, serif", size=13.5, color="#222")
CJK = "Noto Sans CJK SC"
SERIF = "Liberation Serif, serif"


def px(x):
    return x / W


def py(y):
    return 1 - y / H


fig = go.Figure()
layout = {}
shapes = []
annotations = []


def rect(x0, y0, x1, y1):
    shapes.append(dict(type="rect", xref="paper", yref="paper", x0=px(x0), x1=px(x1), y0=py(y1), y1=py(y0),
                       fillcolor="rgba(255,255,255,0.8)", line=dict(color="#d2d2d2", width=0.8), layer="above"))


def sample_line(x0, x1, y, col, w=1.3):
    shapes.append(dict(type="line", xref="paper", yref="paper", x0=px(x0), x1=px(x1), y0=py(y), y1=py(y),
                       line=dict(color=col, width=w), layer="above"))


def dot(cx, cy, r, col):
    shapes.append(dict(type="circle", xref="paper", yref="paper", x0=px(cx - r), x1=px(cx + r),
                       y0=py(cy + r), y1=py(cy - r), fillcolor=col, line=dict(width=0), layer="above"))


def label(x, y, txt, fam, size):
    annotations.append(dict(x=px(x), y=py(y), xref="paper", yref="paper", text=txt, showarrow=False,
                            xanchor="left", yanchor="middle", font=dict(family=fam, size=size, color="#333")))


for i, p in enumerate(panels):
    n = i + 1
    xref = "x" if n == 1 else f"x{n}"
    xname = "xaxis" if n == 1 else f"xaxis{n}"
    yl_id, yr_id = 2 * i + 1, 2 * i + 2
    ylref = "y" if yl_id == 1 else f"y{yl_id}"
    ylname = "yaxis" if yl_id == 1 else f"yaxis{yl_id}"
    yrref, yrname = f"y{yr_id}", f"yaxis{yr_id}"

    # index and zone markers (left axis)
    fig.add_trace(go.Scatter(x=months, y=p["idx"], mode="lines", line=dict(color=C_IDX, width=1),
                             xaxis=xref, yaxis=ylref, showlegend=False, hoverinfo="skip"))
    for key, col, sz in marker_styles:
        pts = p[key]
        if pts:
            fig.add_trace(go.Scatter(x=[d for d, v in pts], y=[v for d, v in pts], mode="markers",
                                     marker=dict(color=col, size=sz, line=dict(width=0)),
                                     xaxis=xref, yaxis=ylref, showlegend=False, hoverinfo="skip"))
    # PE and Bollinger bands (right axis)
    fig.add_trace(go.Scatter(x=months, y=p["pe"], mode="lines", line=dict(color=C_PE, width=1),
                             xaxis=xref, yaxis=yrref, showlegend=False, hoverinfo="skip"))
    for key, col in band_styles:
        fig.add_trace(go.Scatter(x=quarters, y=p[key], mode="lines", line=dict(color=col, width=1),
                                 xaxis=xref, yaxis=yrref, showlegend=False, hoverinfo="skip", connectgaps=False))

    L, T, R, B = p["box"]
    common = dict(ticks="outside", ticklen=3.5, tickwidth=0.8, tickcolor="#555", tickfont=TICKFONT,
                  showline=True, linecolor="#8a8a8a", linewidth=1, zeroline=False)
    layout[xname] = dict(domain=[px(L), px(R)], anchor=ylref, type="date",
                         range=["2016-07-27", "2026-01-12"],
                         tickvals=[f"{y}-01-01" for y in range(2017, 2027)], ticktext=year_ticks,
                         mirror=True, showgrid=True, gridcolor="#dedede", griddash="dot", gridwidth=0.8, **common)
    layout[ylname] = dict(domain=[py(B), py(T)], anchor=xref, range=list(p["yl"]), tickvals=p["ylt"],
                          tickformat="d", showgrid=False, side="left", **common)
    layout[yrname] = dict(overlaying=ylref, anchor=xref, side="right", range=list(p["yr"]), tickvals=p["yrt"],
                          tickformat="d", showgrid=True, gridcolor="#dedede", griddash="dot", gridwidth=0.8,
                          **common)

    # ---- hand-built legends (boxes above the data) ----
    rect(L + 3.4, T + 3.3, L + 79, T + 65)
    top_items = [("line", "rgba(25,25,25,0.7)", p["name"]), ("dot", "#FFA500", "顶部区域"),
                 ("dot", "#008000", "极端顶部区域"), ("dot", "#FFC0CB", "底部区域"), ("dot", "#EE0000", "极端底部区域")]
    for j, (kind, col, txt) in enumerate(top_items):
        yy = T + 10.5 + j * 11.8
        if kind == "line":
            sample_line(L + 7, L + 21, yy, col, 1.6)
        else:
            dot(L + 14, yy, 2.5, col)
        label(L + 28, yy, txt, CJK, 8)

    rect(L + 3.4, B - 77.3, L + 91.7, B - 7.3)
    pe_items = [(C_PE, "PE_TTM"), (C_MA, "PE_TTM_MA"), (C_UP, "PE_TTM_UP"), (C_DN, "PE_TTM_DOWN"),
                (C_UP2, "PE_TTM_UP2"), (C_DN2, "PE_TTM_DOWN2")]
    for j, (col, txt) in enumerate(pe_items):
        yy = B - 69.5 + j * 11.6
        sample_line(L + 7, L + 21, yy, col, 1.3)
        label(L + 28, yy, txt, SERIF, 9)

# title, rules and source
annotations.append(dict(x=px(4), y=py(14), xref="paper", yref="paper", xanchor="left", yanchor="middle",
                        showarrow=False, text="图15：动态估值布林带：主要指数估值基本合理，创业板指估值处于较低位置",
                        font=dict(family=CJK, size=14.3, color="#B0282A")))
annotations.append(dict(x=px(3), y=py(835), xref="paper", yref="paper", xanchor="left", yanchor="middle",
                        showarrow=False, text="资料来源：Wind，浙商证券研究所",
                        font=dict(family="Liberation Serif, " + CJK, size=12, color="#222")))
for yy in (27.5, 823.5):
    shapes.append(dict(type="line", xref="paper", yref="paper", x0=px(2), x1=px(862), y0=py(yy), y1=py(yy),
                       line=dict(color="#C0201E", width=1.6)))

fig.update_layout(width=W, height=H, margin=dict(l=0, r=0, t=0, b=0), plot_bgcolor="white",
                  paper_bgcolor="white", showlegend=False, shapes=shapes, annotations=annotations, **layout)
fig.write_html("out.html")
